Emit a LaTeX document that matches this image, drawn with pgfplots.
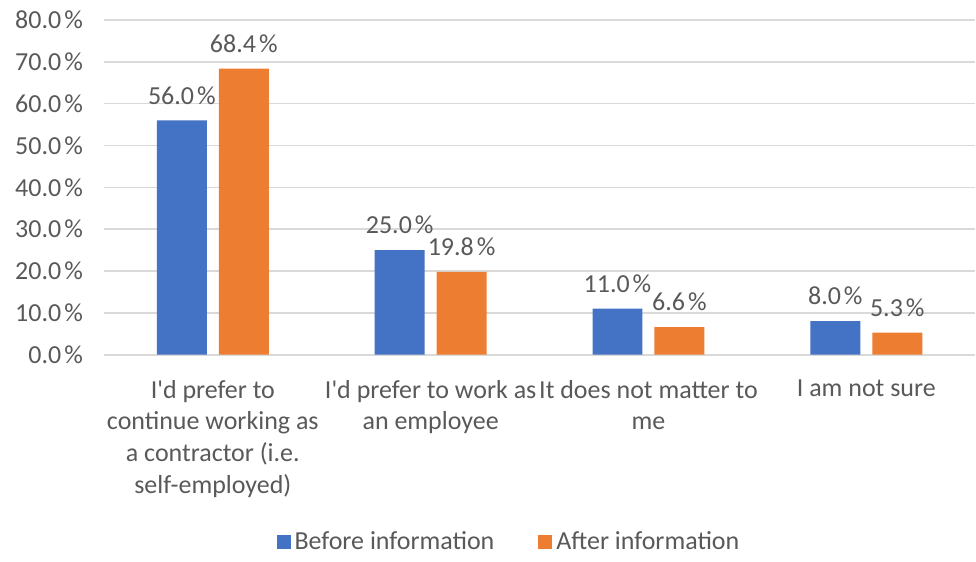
\documentclass[border=0pt]{standalone}
\usepackage{pgfplots}
\pgfplotsset{compat=1.18}
\usetikzlibrary{calc}
\usepackage{fontspec}
\setmainfont{Carlito}
\definecolor{cblue}{HTML}{4472C4}
\definecolor{corange}{HTML}{ED7D31}
\definecolor{gridc}{HTML}{D9D9D9}
\definecolor{txt}{HTML}{595959}
\newcommand{\fs}{\fontsize{13pt}{15.8pt}\selectfont}
\begin{document}
\fs
\begin{tikzpicture}
\begin{axis}[
  name=ax,
  scale only axis,
  width=436pt, height=167.5pt,
  ybar, bar width=25pt,
  xmin=-0.5, xmax=3.5,
  ymin=0, ymax=80,
  ytick={0,10,...,80},
  xtick=data,
  xticklabels={{I\textquotesingle d prefer to\\continue working as\\a contractor (i.e.\\self-employed)},{I\textquotesingle d prefer to work as\\an employee},{It does not matter to\\me},{I am not sure}},
  xticklabel style={align=center, text=txt, font=\fs, yshift=-4pt},
  yticklabel={\pgfmathprintnumber[fixed,fixed zerofill,precision=1]{\tick}\kern1.5pt\%},
  yticklabel style={text=txt, font=\fs, xshift=-6pt},
  /pgf/number format/assume math mode=true,
  ymajorgrids, xmajorgrids=false,
  major grid style={draw=gridc, line width=0.8pt},
  axis line style={draw=none},
  tick style={draw=none},
  nodes near coords={\pgfmathprintnumber[fixed,fixed zerofill,precision=1,assume math mode=true]{\pgfplotspointmeta}\kern1.5pt\%},
  nodes near coords style={text=txt, font=\fs, anchor=south, yshift=3.5pt},
  legend style={at={(0.466,-0.56)}, anchor=center, legend columns=2, draw=none, text=txt, font=\fs,
    /tikz/every even column/.append style={column sep=20pt}},
  legend image code/.code={\fill[#1] (0pt,-3.5pt) rectangle (7pt,3.5pt);},
]
\addplot[fill=cblue, draw=none, bar shift=-15.5pt] coordinates {(0,56.0) (1,25.0) (2,11.0) (3,8.0)};
\addplot[fill=corange, draw=none, bar shift=15.5pt] coordinates {(0,68.4) (1,19.8) (2,6.6) (3,5.3)};
\legend{Before information, After information}
\end{axis}
\path (ax.south west) ++(-52pt,-99pt) rectangle ($(ax.north east)+(0,10pt)$);
\end{tikzpicture}
\end{document}
